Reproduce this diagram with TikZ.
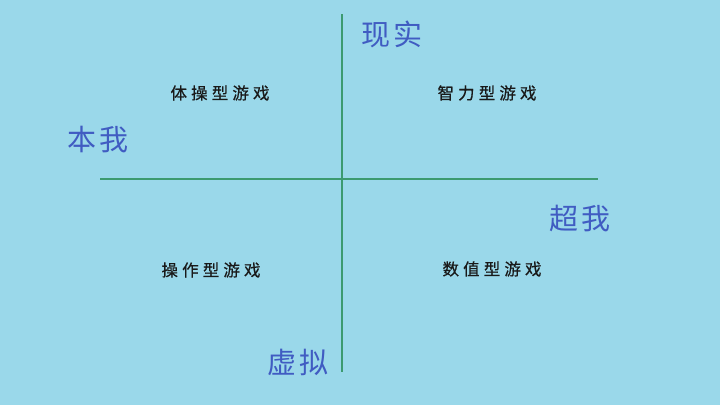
\documentclass[tikz,border=0pt]{standalone}
\usepackage{fontspec}
\newfontfamily\cjk{Noto Sans CJK SC}
\newfontfamily\cjkq[FakeBold=0.6]{Noto Sans CJK SC}
\definecolor{bg}{HTML}{9AD8EA}
\definecolor{axis}{HTML}{3C9A70}
\definecolor{lab}{HTML}{405CC2}
\tikzset{
  quad/.style={font=\cjkq\fontsize{16.5}{20}\selectfont\addfontfeature{LetterSpace=25}, text=black!90, inner sep=0pt},
  axlab/.style={font=\cjk\fontsize{29}{34}\selectfont\addfontfeature{LetterSpace=12}, text=lab, inner sep=0pt},
  axline/.style={draw=axis, line width=1.2pt}
}
\begin{document}
\begin{tikzpicture}[x=1pt,y=-1pt]
\fill[bg] (0,0) rectangle (720,405);
\useasboundingbox (0,0) rectangle (720,405);
\coordinate (hl) at (100,179);
\coordinate (hr) at (598,179);
\coordinate (vt) at (342,14);
\coordinate (vb) at (342,372);
\draw[axline] (hl) -- (hr);
\draw[axline] (vt) -- (vb);
\node[axlab] (real) at (392,34) {现实};
\node[axlab] (id) at (98,140) {本我};
\node[axlab] (ego) at (580,219) {超我};
\node[axlab] (virt) at (298,362) {虚拟};
\node[quad] (q1) at (220,93) {体操型游戏};
\node[quad] (q2) at (487,93) {智力型游戏};
\node[quad] (q3) at (211,270) {操作型游戏};
\node[quad] (q4) at (492,269) {数值型游戏};
\end{tikzpicture}
\end{document}
